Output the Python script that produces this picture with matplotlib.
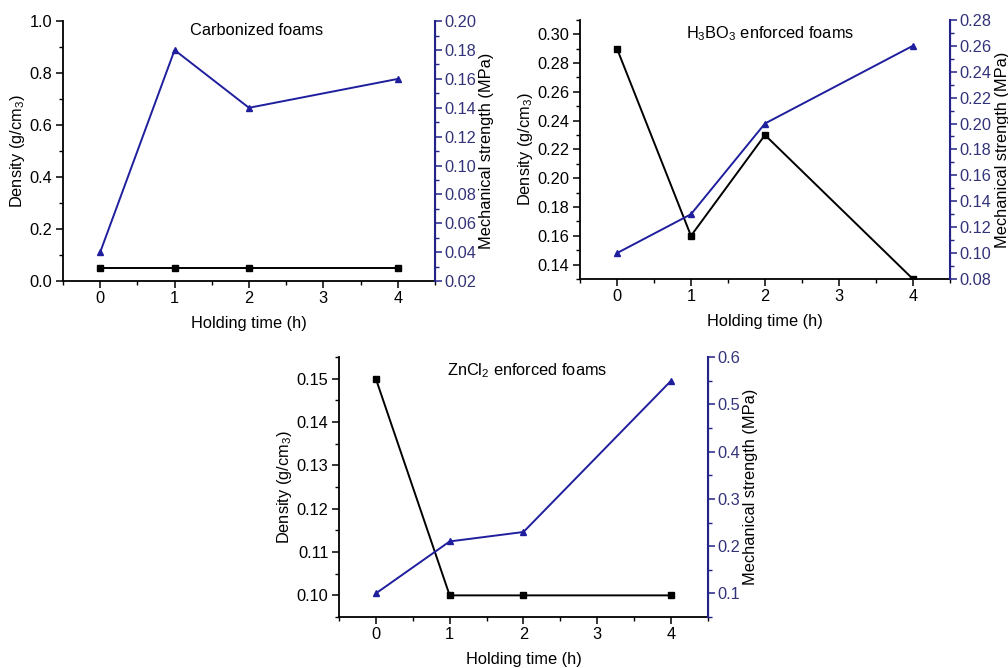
import matplotlib
matplotlib.use('Agg')
import matplotlib.pyplot as plt
from matplotlib.ticker import MultipleLocator, FormatStrFormatter

plt.rcParams['font.family'] = ['Liberation Sans', 'DejaVu Sans']
plt.rcParams['font.size'] = 11.8
plt.rcParams['mathtext.fontset'] = 'custom'
plt.rcParams['mathtext.rm'] = 'Liberation Sans'

# holding time (h)
hours = [0, 1, 2, 4]

# Carbonized foams
carb_density = [0.05, 0.05, 0.05, 0.05]
carb_strength = [0.04, 0.18, 0.14, 0.16]

# H3BO3 enforced foams
boric_density = [0.29, 0.16, 0.23, 0.13]
boric_strength = [0.10, 0.13, 0.20, 0.26]

# ZnCl2 enforced foams
zinc_density = [0.15, 0.10, 0.10, 0.10]
zinc_strength = [0.10, 0.21, 0.23, 0.55]

BLUE = '#1f1f9e'
NAVY = '#23238a'
LABEL_NAVY = '#33337a'

fig = plt.figure(figsize=(10.08, 6.68), dpi=100)


def panel(rect, density, strength, title, title_x, title_y, dlim, dmaj, dmin, dfmt,
          slim, smaj, smin, sfmt):
    ax = fig.add_axes(rect)
    ax.plot(hours, density, color='black', marker='s', ms=4, lw=1.4, zorder=3)
    ax.set_xlim(-0.5, 4.5)
    ax.set_ylim(*dlim)
    ax.xaxis.set_major_locator(MultipleLocator(1))
    ax.xaxis.set_minor_locator(MultipleLocator(0.5))
    ax.yaxis.set_major_locator(MultipleLocator(dmaj))
    ax.yaxis.set_minor_locator(MultipleLocator(dmin))
    ax.yaxis.set_major_formatter(FormatStrFormatter(dfmt))
    ax.spines['top'].set_visible(False)
    ax.spines['left'].set_linewidth(1.3)
    ax.spines['bottom'].set_linewidth(1.3)
    ax.tick_params(which='major', direction='out', length=5, width=1.1, pad=2.5)
    ax.tick_params(which='minor', direction='out', length=3, width=1.0)
    ax.set_xlabel('Holding time (h)', labelpad=7)
    ax.set_ylabel('Density (g/cm$_3$)', labelpad=2)
    ax.text(title_x, title_y, title, transform=ax.transAxes, ha='center', va='center')

    ax2 = ax.twinx()
    ax2.plot(hours, strength, color=BLUE, marker='^', ms=4.5, lw=1.4, zorder=3)
    ax2.set_ylim(*slim)
    ax2.yaxis.set_major_locator(MultipleLocator(smaj))
    ax2.yaxis.set_minor_locator(MultipleLocator(smin))
    ax2.yaxis.set_major_formatter(FormatStrFormatter(sfmt))
    ax2.spines['top'].set_visible(False)
    ax2.spines['left'].set_visible(False)
    ax2.spines['bottom'].set_visible(False)
    ax2.spines['right'].set_color(NAVY)
    ax2.spines['right'].set_linewidth(1.5)
    ax2.tick_params(which='major', direction='out', length=5, width=1.1,
                    color=NAVY, labelcolor=LABEL_NAVY, pad=2)
    ax2.tick_params(which='minor', direction='out', length=3, width=1.0,
                    color=NAVY)
    ax2.set_ylabel('Mechanical strength (MPa)', labelpad=2)
    return ax, ax2


panel([0.0625, 0.5793, 0.369, 0.389], carb_density, carb_strength,
      'Carbonized foams', 0.52, 0.965,
      (0.0, 1.0), 0.2, 0.1, '%.1f',
      (0.02, 0.20), 0.02, 0.01, '%.2f')

panel([0.5754, 0.5823, 0.367, 0.388], boric_density, boric_strength,
      'H$_3$BO$_3$ enforced foams', 0.514, 0.946,
      (0.13, 0.31), 0.02, 0.01, '%.2f',
      (0.08, 0.28), 0.02, 0.01, '%.2f')

panel([0.3363, 0.0763, 0.366, 0.389], zinc_density, zinc_strength,
      'ZnCl$_2$ enforced foams', 0.51, 0.95,
      (0.095, 0.155), 0.01, 0.005, '%.2f',
      (0.05, 0.60), 0.1, 0.05, '%.1f')

fig.savefig('out.png', dpi=100)
